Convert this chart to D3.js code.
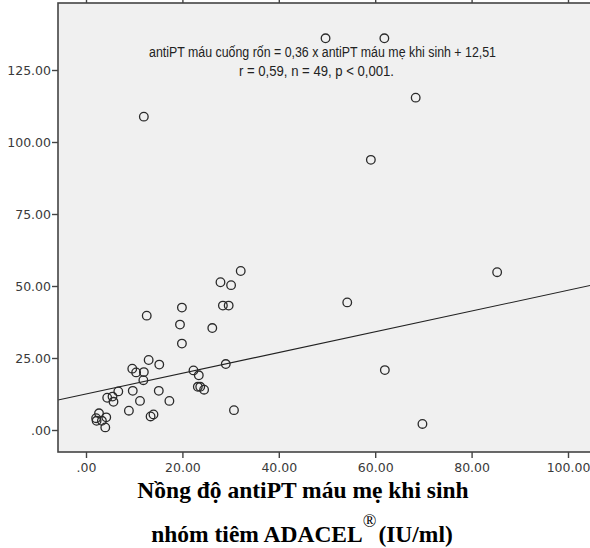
<!DOCTYPE html>
<html>
<head>
<meta charset="utf-8">
<script src="https://cdn.jsdelivr.net/npm/d3@7"></script>
<style>
	body { margin: 0; background: #fff; }
	svg { display: block; }
	.tick text { font-family: "DejaVu Sans", sans-serif; font-size: 12.5px; fill: #3a3a3a; }
</style>
</head>
<body>
<div id="graphic"></div>
<script>
// antiPT máu mẹ khi sinh (x) vs antiPT máu cuống rốn (y), IU/ml
const motherValues = [
	32.1, 27.9, 30.1, 28.4, 29.6, 19.9, 12.6, 19.5, 26.2, 19.9,
	13.0, 15.2, 29.0, 9.6, 10.4, 12.0, 11.9, 22.3, 23.4, 23.2,
	23.7, 24.5, 6.7, 9.7, 15.1, 4.4, 5.5, 5.7, 11.2, 17.3,
	8.9, 30.7, 13.4, 14.0, 2.7, 2.1, 2.2, 3.3, 4.2, 4.0,
	12.0, 49.7, 61.9, 68.4, 59.1, 54.2, 85.3, 62.0, 69.8
];
const cordValues = [
	55.2, 51.3, 50.3, 43.2, 43.2, 42.5, 39.7, 36.6, 35.4, 30.0,
	24.3, 22.7, 22.9, 21.3, 20.0, 20.1, 17.3, 20.7, 19.0, 15.0,
	15.0, 14.0, 13.4, 13.6, 13.6, 11.2, 11.6, 9.8, 10.1, 10.1,
	6.7, 6.9, 4.7, 5.4, 5.8, 4.1, 3.2, 3.2, 4.4, 0.9,
	108.8, 136.0, 136.0, 115.4, 93.8, 44.3, 54.8, 20.8, 2.1
];
const xTicks = [0, 20, 40, 60, 80, 100];
const yTicks = [0, 25, 50, 75, 100, 125];
const slope = 0.36;
const intercept = 12.51;
const equationLines = [
	'antiPT máu cuống rốn = 0,36 x antiPT máu mẹ khi sinh + 12,51',
	'r = 0,59, n = 49, p < 0,001.'
];

const width = 590, height = 548;
const frame = { left: 58, top: 3, right: 600, bottom: 452 };

const svg = d3.select('#graphic').append('svg')
	.attr('width', width)
	.attr('height', height);

const x = d3.scaleLinear().domain([0, 100]).range([86, 568]);
const y = d3.scaleLinear().domain([0, 125]).range([430, 70]);

const data = motherValues.map((m, i) => ({ x: m, y: cordValues[i] }));

// plot background
svg.append('rect')
	.attr('x', frame.left)
	.attr('y', frame.top)
	.attr('width', frame.right - frame.left)
	.attr('height', frame.bottom - frame.top)
	.attr('fill', '#f0f0f0');

const plot = svg.append('g');
plot.append('clipPath').attr('id', 'clip')
	.append('rect')
	.attr('x', frame.left).attr('y', frame.top)
	.attr('width', frame.right - frame.left)
	.attr('height', frame.bottom - frame.top);

// fit line across the whole frame
const x0 = x.invert(frame.left), x1 = x.invert(frame.right);
plot.append('line')
	.attr('clip-path', 'url(#clip)')
	.attr('x1', x(x0)).attr('y1', y(slope * x0 + intercept))
	.attr('x2', x(x1)).attr('y2', y(slope * x1 + intercept))
	.attr('stroke', '#222')
	.attr('stroke-width', 1.1);

plot.selectAll('circle')
	.data(data)
	.join('circle')
	.attr('cx', d => x(d.x))
	.attr('cy', d => y(d.y))
	.attr('r', 4.3)
	.attr('fill', 'none')
	.attr('stroke', '#2a2a2a')
	.attr('stroke-width', 1.3);

// frame
svg.append('rect')
	.attr('x', frame.left)
	.attr('y', frame.top)
	.attr('width', frame.right - frame.left)
	.attr('height', frame.bottom - frame.top)
	.attr('fill', 'none')
	.attr('stroke', '#444')
	.attr('stroke-width', 1.6);

const fmt = d => d === 0 ? '.00' : d3.format('.2f')(d);

const yAxis = svg.append('g')
	.attr('transform', `translate(${frame.left},0)`)
	.call(d3.axisLeft(y).tickValues(yTicks).tickSize(6).tickPadding(1).tickFormat(fmt));
const xAxis = svg.append('g')
	.attr('transform', `translate(0,${frame.bottom})`)
	.call(d3.axisBottom(x).tickValues(xTicks).tickSize(6).tickPadding(5).tickFormat(fmt));
const xTop = svg.append('g')
	.attr('transform', `translate(0,${frame.top})`)
	.call(d3.axisTop(x).tickValues(xTicks).tickSize(6).tickFormat(''));

[yAxis, xAxis, xTop].forEach(g => {
	g.select('.domain').remove();
	g.selectAll('.tick line').attr('stroke', '#444').attr('stroke-width', 1.4);
});

// regression equation (narrow face, squeezed to the reference width)
svg.append('g').selectAll('text')
	.data(equationLines)
	.join('text')
	.attr('x', (d, i) => i === 0 ? 149 : 239)
	.attr('y', (d, i) => 57 + i * 19)
	.attr('textLength', (d, i) => i === 0 ? 347 : 155)
	.attr('lengthAdjust', 'spacingAndGlyphs')
	.attr('font-family', '"Liberation Sans", Arial, sans-serif')
	.attr('font-size', 14)
	.attr('fill', '#222')
	.text(d => d);

// axis title
const title = svg.append('g')
	.attr('font-family', '"Liberation Serif", "Times New Roman", serif')
	.attr('font-weight', 'bold')
	.attr('font-size', 23.5)
	.attr('fill', '#000')
	.attr('text-anchor', 'middle');

title.append('text')
	.attr('x', 303)
	.attr('y', 498)
	.text('Nồng độ antiPT máu mẹ khi sinh');

const line2 = title.append('text')
	.attr('x', 302)
	.attr('y', 542);
line2.append('tspan').text('nhóm tiêm ADACEL');
line2.append('tspan')
	.attr('dy', -15)
	.attr('font-weight', 'normal')
	.attr('font-size', 18)
	.text('®');
line2.append('tspan')
	.attr('dy', 15)
	.attr('dx', 2)
	.text('(IU/ml)');
</script>
</body>
</html>
